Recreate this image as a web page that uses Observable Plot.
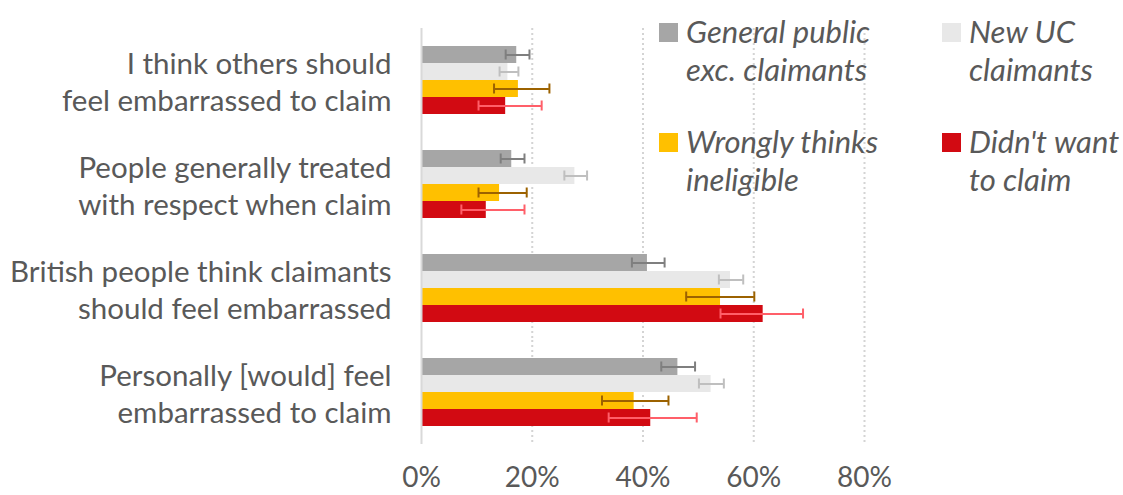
<!DOCTYPE html>
<html>
<head>
<meta charset="utf-8">
<script src="https://cdn.jsdelivr.net/npm/d3@7"></script>
<script src="https://cdn.jsdelivr.net/npm/@observablehq/plot@0.6"></script>
<style>
  html, body { margin: 0; padding: 0; background: #fff; }
  #wrap { position: relative; width: 1123px; height: 495px; overflow: hidden; font-family: Lato, "Open Sans", sans-serif; }
  #legend { position: absolute; left: 659px; top: 12px; display: grid; grid-template-columns: 283px 190px; row-gap: 34px; }
  .item { display: flex; align-items: flex-start; color: #595959; font-style: italic; font-size: 31px; line-height: 38px; }
  .sw { width: 19px; height: 19px; margin-top: 11px; margin-right: 8px; flex: none; }
</style>
</head>
<body>
<div id="wrap"><div id="chart"></div><div id="legend"></div></div>
<script>
const categories = [
  "I think others should\nfeel embarrassed to claim",
  "People generally treated\nwith respect when claim",
  "British people think claimants\nshould feel embarrassed",
  "Personally [would] feel\nembarrassed to claim"
];
const series = ["General public exc. claimants", "New UC claimants", "Wrongly thinks ineligible", "Didn't want to claim"];
const legendLabels = ["General public\nexc. claimants", "New UC\nclaimants", "Wrongly thinks\nineligible", "Didn't want\nto claim"];
const fillColors = ["#a6a6a6", "#e8e8e8", "#ffc000", "#d20a12"];
const errColors = ["#7f7f7f", "#bfbfbf", "#9c6200", "#ff5f69"];

// values in %, per category (top to bottom)
const generalPublic     = [17.2, 16.3, 40.8, 46.3];
const generalPublicLow  = [15.2, 14.3, 38.0, 43.3];
const generalPublicHigh = [19.5, 18.6, 43.9, 49.4];
const newUC     = [15.6, 27.7, 55.8, 52.3];
const newUCLow  = [14.1, 25.8, 53.7, 50.1];
const newUCHigh = [17.5, 29.9, 58.1, 54.6];
const wrongly     = [17.5, 14.1, 54.0, 38.4];
const wronglyLow  = [13.1, 10.3, 47.8, 32.6];
const wronglyHigh = [23.1, 19.0, 60.1, 44.6];
const didnt     = [15.2, 11.7, 61.7, 41.4];
const didntLow  = [10.3,  7.2, 54.0, 33.8];
const didntHigh = [21.7, 18.6, 68.9, 49.7];
const xTicks = [0, 20, 40, 60, 80];

const seriesValues = [
  [generalPublic, generalPublicLow, generalPublicHigh],
  [newUC, newUCLow, newUCHigh],
  [wrongly, wronglyLow, wronglyHigh],
  [didnt, didntLow, didntHigh]
];
const data = [];
series.forEach((s, si) => {
  categories.forEach((c, ci) => {
    data.push({category: c, series: s, value: seriesValues[si][0][ci], low: seriesValues[si][1][ci], high: seriesValues[si][2][ci]});
  });
});

const errMarks = [];
series.forEach((s, i) => {
  const d = data.filter(r => r.series === s);
  errMarks.push(Plot.ruleY(d, {x1: "low", x2: "high", y: "series", fy: "category", stroke: errColors[i], strokeWidth: 2}));
  errMarks.push(Plot.tickX(d, {x: "low", y: "series", fy: "category", stroke: errColors[i], strokeWidth: 2, insetTop: 3.5, insetBottom: 3.5}));
  errMarks.push(Plot.tickX(d, {x: "high", y: "series", fy: "category", stroke: errColors[i], strokeWidth: 2, insetTop: 3.5, insetBottom: 3.5}));
});

const chart = Plot.plot({
  width: 1123,
  height: 495,
  marginLeft: 421,
  marginRight: 259,
  marginTop: 28,
  marginBottom: 51,
  style: {fontFamily: "Lato, 'Open Sans', sans-serif", color: "#595959", background: "#fff"},
  x: {domain: [0, 80], axis: null},
  y: {domain: series, paddingInner: 0, paddingOuter: 0.889, axis: null},
  fy: {domain: categories, padding: 0, label: null, axis: null},
  color: {domain: series, range: fillColors},
  marks: [
    Plot.gridX({ticks: [20, 40, 60, 80], stroke: "#d4d4d4", strokeOpacity: 1, strokeWidth: 2, strokeDasharray: "2,3"}),
    Plot.barX(data, {x: "value", y: "series", fy: "category", fill: "series"}),
    ...errMarks,
    Plot.ruleX([0], {stroke: "#d9d9d9", strokeWidth: 2}),
    Plot.axisX({ticks: xTicks, tickFormat: d => d + "%", tickSize: 0, tickPadding: 23, fontSize: 28, label: null}),
    Plot.axisFy({anchor: "left", tickSize: 0, tickPadding: 30, fontSize: 29.5, lineHeight: 1.255, label: null})
  ]
});
document.getElementById("chart").appendChild(chart);

const legend = document.getElementById("legend");
[0, 1, 2, 3].forEach(i => {
  const item = document.createElement("div");
  item.className = "item";
  const sw = document.createElement("div");
  sw.className = "sw";
  sw.style.background = fillColors[i];
  const t = document.createElement("div");
  t.style.whiteSpace = "pre";
  t.textContent = legendLabels[i];
  item.appendChild(sw);
  item.appendChild(t);
  legend.appendChild(item);
});
</script>
</body>
</html>
